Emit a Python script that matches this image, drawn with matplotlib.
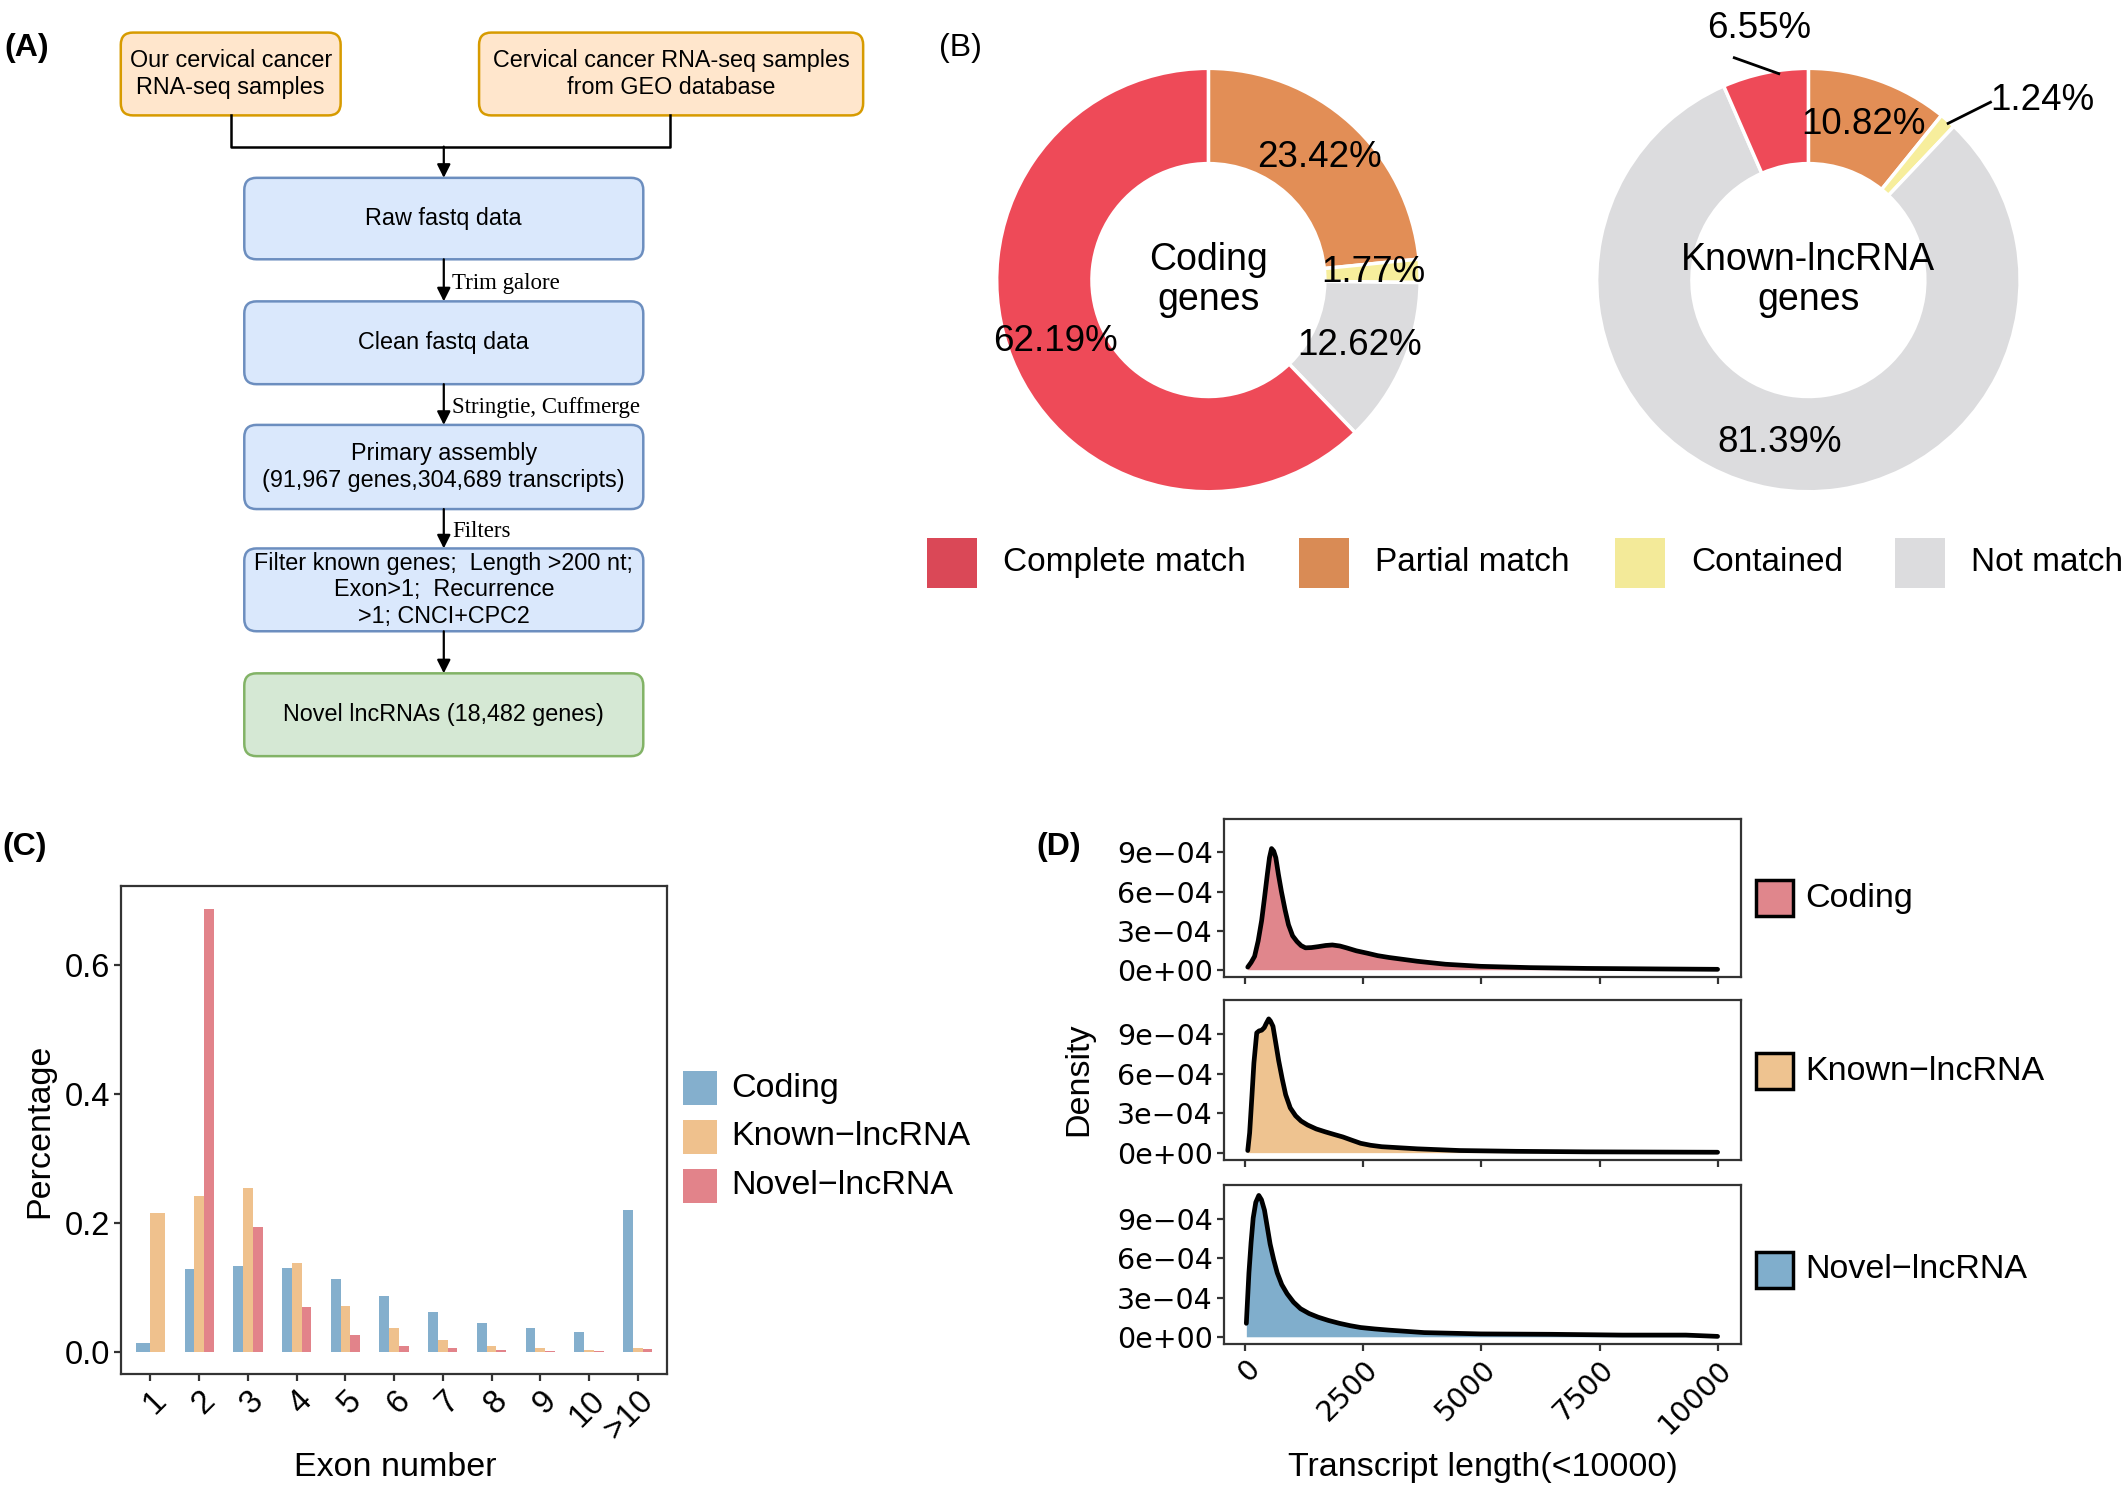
import numpy as np
import matplotlib.pyplot as plt
from matplotlib.patches import FancyBboxPatch, Rectangle

plt.rcParams['font.family'] = ['Liberation Sans', 'DejaVu Sans']

# layout grid (same aspect as the output picture)
W, H = 1568, 1102

# ---------------- data ----------------
top_boxes = ["Our cervical cancer\nRNA-seq samples",
             "Cervical cancer RNA-seq samples\nfrom GEO database"]
flow_boxes = ["Raw fastq data",
              "Clean fastq data",
              "Primary assembly\n(91,967 genes,304,689 transcripts)",
              "Filter known genes;  Length >200 nt;\nExon>1;  Recurrence\n>1; CNCI+CPC2",
              "Novel lncRNAs (18,482 genes)"]
flow_steps = ["Trim galore", "Stringtie, Cuffmerge", "Filters", ""]

match_labels = ["Complete match", "Partial match", "Contained", "Not match"]
coding_match = [62.19, 23.42, 1.77, 12.62]
known_match = [6.55, 10.82, 1.24, 81.39]

exon_labels = ["1", "2", "3", "4", "5", "6", "7", "8", "9", "10", ">10"]
exon_coding = [0.013, 0.129, 0.133, 0.130, 0.113, 0.086, 0.061, 0.045, 0.037, 0.031, 0.220]
exon_known = [0.215, 0.241, 0.254, 0.138, 0.071, 0.036, 0.018, 0.009, 0.005, 0.003, 0.006]
exon_novel = [np.nan, 0.688, 0.193, 0.069, 0.026, 0.009, 0.005, 0.003, 0.0015, 0.001, 0.004]

coding_len = [50, 120, 195, 270, 344, 404, 464, 510, 554, 600, 644, 700, 763, 840, 913,
              1000, 1093, 1180, 1272, 1400, 1542, 1700, 1841, 2000, 2140, 2350, 2590,
              2800, 3039, 3638, 4237, 4985, 6033, 7231, 8728, 10000]
coding_dens = [2e-5, 5.5e-5, 1.03e-4, 2.2e-4, 3.77e-4, 5.5e-4, 7.3e-4, 8.6e-4, 9.3e-4,
               9.1e-4, 8.6e-4, 7.3e-4, 6.0e-4, 4.6e-4, 3.45e-4, 2.6e-4, 2.16e-4, 1.85e-4,
               1.68e-4, 1.70e-4, 1.77e-4, 1.86e-4, 1.9e-4, 1.82e-4, 1.68e-4, 1.45e-4,
               1.26e-4, 1.08e-4, 9.4e-5, 6.5e-5, 4.2e-5, 2.6e-5, 1.6e-5, 1.0e-5, 6e-6, 3e-6]
known_len = [50, 90, 135, 180, 240, 290, 344, 400, 440, 494, 530, 584, 640, 704, 780, 853,
             950, 1063, 1180, 1317, 1500, 1691, 1880, 2065, 2250, 2440, 2650, 2889, 3638,
             4536, 5734, 7231, 10000]
known_dens = [1.6e-5, 1.5e-4, 4.1e-4, 6.8e-4, 9.1e-4, 9.25e-4, 9.3e-4, 9.5e-4, 9.8e-4,
              1.016e-3, 1.0e-3, 9.6e-4, 8.4e-4, 7.0e-4, 5.6e-4, 4.4e-4, 3.4e-4, 2.8e-4,
              2.4e-4, 2.1e-4, 1.8e-4, 1.58e-4, 1.38e-4, 1.19e-4, 9.5e-5, 7.1e-5, 5.6e-5,
              4.5e-5, 2.9e-5, 1.6e-5, 1.0e-5, 6e-6, 3e-6]
novel_len = [20, 45, 75, 120, 165, 220, 284, 340, 404, 464, 524, 600, 674, 770, 883, 1020,
             1168, 1350, 1542, 1760, 1991, 2220, 2440, 2740, 3039, 3787, 4985, 6482, 7979,
             9326, 10000]
novel_dens = [1.03e-4, 2.8e-4, 4.9e-4, 7.2e-4, 9.1e-4, 1.03e-3, 1.083e-3, 1.05e-3, 9.7e-4,
              8.4e-4, 7.1e-4, 5.9e-4, 4.9e-4, 4.0e-4, 3.3e-4, 2.65e-4, 2.15e-4, 1.78e-4,
              1.5e-4, 1.25e-4, 1.03e-4, 8.5e-5, 7.1e-5, 6.0e-5, 5.1e-5, 3.2e-5, 2.2e-5,
              1.9e-5, 1.3e-5, 1.3e-5, 3e-6]

# ---------------- colours ----------------
donut_cols = ["#EE4A58", "#E28E56", "#F7EE9C", "#DCDCDE"]
legend_b_cols = ["#DA4857", "#D98B55", "#F3EA99", "#DCDCDE"]
c_cols = ["#84AFCD", "#EFC18D", "#E2838A"]
d_cols = ["#E0868C", "#EEC390", "#80AECC"]
group_names = ["Coding", "Known−lncRNA", "Novel−lncRNA"]


def rect(x0, y0, x1, y1):
    return [x0 / W, 1 - y1 / H, (x1 - x0) / W, (y1 - y0) / H]


fig = plt.figure(figsize=(21.28, 14.96), dpi=100)
ax0 = fig.add_axes([0, 0, 1, 1])
ax0.set_xlim(0, W)
ax0.set_ylim(H, 0)
ax0.axis('off')

# ---------------- (A) flowchart ----------------
ax0.text(3, 35, "(A)", fontsize=23, fontweight='bold', va='center')


def fbox(x0, y0, x1, y1, fc, ec, txt):
    p = FancyBboxPatch((x0, y0), x1 - x0, y1 - y0,
                       boxstyle="round,pad=0,rounding_size=9",
                       fc=fc, ec=ec, lw=1.8)
    ax0.add_patch(p)
    ax0.text((x0 + x1) / 2, (y0 + y1) / 2, txt, ha='center', va='center',
             fontsize=16.8, linespacing=1.2)


fbox(89, 24, 251, 85, "#FFE6CC", "#D79B00", top_boxes[0])
fbox(353, 24, 636, 85, "#FFE6CC", "#D79B00", top_boxes[1])
ax0.plot([170, 170, 494, 494], [85, 108, 108, 85], color='black', lw=1.8)

ys = [(131, 191), (222, 283), (313, 375), (404, 465), (496, 557)]
for k, (txt, (y0, y1)) in enumerate(zip(flow_boxes, ys)):
    if k == len(flow_boxes) - 1:
        fbox(180, y0, 474, y1, "#D5E8D4", "#82B366", txt)
    else:
        fbox(180, y0, 474, y1, "#DAE8FC", "#6C8EBF", txt)

arrow_kw = dict(arrowstyle='-|>', color='black', lw=1.6, mutation_scale=20,
                shrinkA=0, shrinkB=0)
ax0.annotate("", xy=(327, 131), xytext=(327, 108), arrowprops=arrow_kw)
for k, step in enumerate(flow_steps):
    ya, yb = ys[k][1], ys[k + 1][0]
    ax0.annotate("", xy=(327, yb), xytext=(327, ya), arrowprops=arrow_kw)
    if step:
        ax0.text(333, (ya + yb) / 2 + 2, step, family='Liberation Serif',
                 fontsize=16.5, va='center', ha='left')

# ---------------- (B) donuts ----------------
ax0.text(692, 35, "(B)", fontsize=23, va='center')
R_PX = 156
order = [1, 2, 3, 0]


def donut(cx, cy, values, centre, outside):
    ax = fig.add_axes(rect(cx - R_PX, cy - R_PX, cx + R_PX, cy + R_PX))
    vals = [values[i] for i in order]
    cols = [donut_cols[i] for i in order]
    ax.pie(vals, colors=cols, startangle=90, counterclock=False, radius=1,
           wedgeprops=dict(width=0.45, edgecolor='white', linewidth=2.5))
    ax.set_xlim(-1, 1)
    ax.set_ylim(-1, 1)
    ax.set_aspect('equal')
    ax.text(0, 0, centre, ha='center', va='center', fontsize=27, linespacing=1.15)
    cum = np.cumsum(vals)
    for j, v in enumerate(vals):
        ang = np.deg2rad((cum[j] - v / 2) / 100 * 360)
        lab = f"{v:.2f}%"
        if order[j] in outside:
            (tx, ty, ha), (l0, l1) = outside[order[j]]
            ax.plot([l0[0], l1[0]], [l0[1], l1[1]], color='black', lw=2, clip_on=False)
            ax.text(tx, ty, lab, ha=ha, va='center', fontsize=26.5)
        else:
            ax.text(0.78 * np.sin(ang), 0.78 * np.cos(ang), lab,
                    ha='center', va='center', fontsize=26.5)
    return ax


donut(890.4, 206.3, coding_match, "Coding\ngenes", {})
donut(1332.5, 206.3, known_match, "Known-lncRNA\ngenes",
      {0: ((-0.235, 1.19, 'center'), ((-0.35, 1.05), (-0.14, 0.975))),
       2: ((0.86, 0.85, 'left'), ((0.66, 0.74), (0.86, 0.84)))})

# legend for (B)
leg_x = [683, 957, 1190, 1396]
for k, lab in enumerate(match_labels):
    ax0.add_patch(Rectangle((leg_x[k], 396), 37, 37, fc=legend_b_cols[k], ec='none'))
    ax0.text(leg_x[k] + 56, 414.5, lab, fontsize=24, va='center', ha='left')

# ---------------- (C) exon bars ----------------
ax0.text(2, 624, "(C)", fontsize=23, fontweight='bold', va='center')
axc = fig.add_axes(rect(89.3, 653, 491.5, 1012))
series = [exon_coding, exon_known, exon_novel]
for i in range(len(exon_labels)):
    present = [s for s in range(3) if not np.isnan(series[s][i])]
    n = len(present)
    bw = 0.6 / n
    for j, s in enumerate(present):
        axc.bar(i + (j - (n - 1) / 2) * bw, series[s][i], width=bw, color=c_cols[s], lw=0)
axc.set_xlim(-0.6, 10.6)
axc.set_ylim(-0.0345, 0.7225)
axc.set_yticks([0, 0.2, 0.4, 0.6])
axc.set_yticklabels(["0.0", "0.2", "0.4", "0.6"], fontsize=23.5)
axc.set_xticks(range(len(exon_labels)))
axc.set_xticklabels(exon_labels, rotation=45, ha='right', va='top', rotation_mode='anchor',
                    fontsize=23.5)
ax0.text(291, 1081, "Exon number", fontsize=24.5, ha='center', va='center')
ax0.text(29, 833, "Percentage", fontsize=24.5, ha='center', va='center', rotation=90)
for k, nm in enumerate(group_names):
    yk = [789, 825, 861][k]
    ax0.add_patch(Rectangle((503, yk), 25, 25, fc=c_cols[k], ec='none'))
    ax0.text(539, yk + 12.5, nm, fontsize=24.5, va='center', ha='left')

# ---------------- (D) length densities ----------------
ax0.text(764, 624, "(D)", fontsize=23, fontweight='bold', va='center')
d_rows = [(603, 719.6), (736.6, 854.4), (873.2, 990)]
d_data = [(coding_len, coding_dens), (known_len, known_dens), (novel_len, novel_dens)]
d_axes = []
for k, ((y0, y1), (xs, dv)) in enumerate(zip(d_rows, d_data)):
    ax = fig.add_axes(rect(902, y0, 1283, y1))
    d_axes.append(ax)
    ax.fill_between(xs, dv, color=d_cols[k], lw=0)
    ax.plot(xs, dv, color='black', lw=3.4, solid_capstyle='round', solid_joinstyle='round')
    ax.set_xlim(-450, 10500)
    ax.set_ylim(-5.5e-5, 1.16e-3)
    ax.set_yticks([0, 3e-4, 6e-4, 9e-4])
    ax.set_yticklabels(["0e+00", "3e−04", "6e−04", "9e−04"], family='DejaVu Sans',
                       fontsize=20.5)
    ax.set_xticks([0, 2500, 5000, 7500, 10000])
    if k == 2:
        ax.set_xticklabels(["0", "2500", "5000", "7500", "10000"], rotation=45,
                           ha='right', va='top', rotation_mode='anchor',
                           family='DejaVu Sans', fontsize=20.5)
    else:
        ax.set_xticklabels([])
    yk = [(648 + 675) / 2, (775 + 803) / 2, (922 + 949) / 2][k]
    ax0.add_patch(Rectangle((1294, yk - 13.5), 27, 27, fc=d_cols[k], ec='black', lw=2.5))
    ax0.text(1330, yk, group_names[k], fontsize=24.5, va='center', ha='left')
ax0.text(1093, 1081, "Transcript length(<10000)", fontsize=24.5, ha='center', va='center')
ax0.text(795, 795, "Density", fontsize=24.5, ha='center', va='center', rotation=90)

# shared axis styling for C and D
for ax in [axc] + d_axes:
    for sp in ax.spines.values():
        sp.set_color('#333333')
        sp.set_linewidth(1.6)
    ax.tick_params(length=5, width=1.6, color='#333333', pad=3, labelcolor='black')

fig.savefig("out.png", dpi=100)
